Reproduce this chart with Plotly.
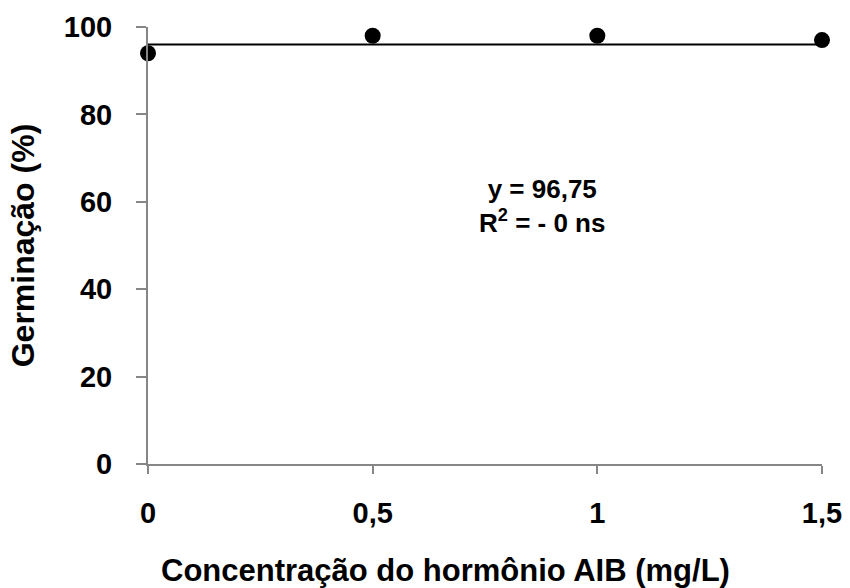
import plotly.graph_objects as go

conc = [0, 0.5, 1, 1.5]
germinacao = [94, 98, 98, 97]
trend_y = 96
x_ticks = [0, 0.5, 1, 1.5]
x_tick_labels = ["0", "0,5", "1", "1,5"]
y_ticks = [0, 20, 40, 60, 80, 100]

font_family = "Liberation Sans, Arial, sans-serif"
axis_gray = "#868686"

fig = go.Figure()
fig.add_trace(go.Scatter(
    x=[conc[0], conc[-1]], y=[trend_y, trend_y], mode="lines",
    line=dict(color="black", width=2), showlegend=False, cliponaxis=False,
))
fig.add_trace(go.Scatter(
    x=conc, y=germinacao, mode="markers",
    marker=dict(color="black", size=16), showlegend=False, cliponaxis=False,
))

fig.add_annotation(
    x=0.585, y=0.59, xref="paper", yref="paper",
    text="<b>y = 96,75</b><br><b>R<sup>2</sup> = - 0 ns</b>",
    showarrow=False, font=dict(family=font_family, size=26, color="black"),
    align="center",
)
# x-axis title (offset left of the axis centre, as in the reference)
fig.add_annotation(
    x=0.4407, y=-0.243, xref="paper", yref="paper",
    text="<b>Concentração do hormônio AIB (mg/L)</b>",
    showarrow=False, font=dict(family=font_family, size=31, color="black"),
    xanchor="center", yanchor="middle",
)

fig.update_layout(
    width=850, height=588,
    margin=dict(l=148, r=28, t=27, b=124),
    plot_bgcolor="white", paper_bgcolor="white",
    font=dict(family=font_family, color="black"),
)
fig.update_xaxes(
    range=[0, 1.5], tickvals=x_ticks, ticktext=x_tick_labels,
    showgrid=False, zeroline=False, showline=True, linecolor=axis_gray, linewidth=2,
    ticks="outside", ticklen=8, tickwidth=2, tickcolor=axis_gray,
    tickfont=dict(size=29, family=font_family, weight="bold"),
    ticklabelstandoff=14, automargin=False,
)
fig.update_yaxes(
    range=[0, 100], tickvals=y_ticks,
    showgrid=False, zeroline=False, showline=True, linecolor=axis_gray, linewidth=2,
    ticks="outside", ticklen=10, tickwidth=2, tickcolor=axis_gray,
    tickfont=dict(size=29, family=font_family, weight="bold"),
    ticklabelstandoff=18, automargin=False,
    title=dict(text="<b>Germinação (%)</b>",
               font=dict(size=32, family=font_family), standoff=20),
)

fig.write_html("out.html", config={"displayModeBar": False},
               post_script="document.body.style.margin='0';")
